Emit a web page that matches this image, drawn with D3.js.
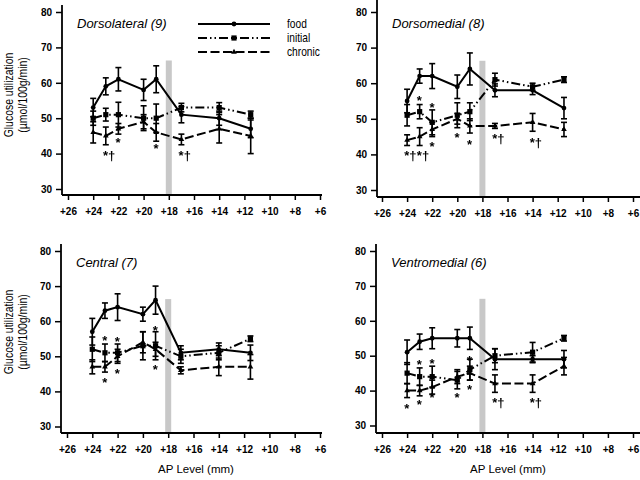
<!DOCTYPE html>
<html><head><meta charset="utf-8">
<script src="https://cdn.jsdelivr.net/npm/d3@7"></script>
<style>
body{margin:0;background:#fff;}
svg{display:block;font-family:"Liberation Sans",Arial,sans-serif;}
</style></head>
<body><svg id="c" width="640" height="480"><defs><filter id="gs" x="-50%" y="-50%" width="200%" height="200%"><feColorMatrix type="saturate" values="0"/></filter></defs></svg>
<script>
const apLevels = [24, 23, 22, 20, 19, 17, 14, 11.5];
const panelTitles = ["Dorsolateral (9)", "Dorsomedial (8)", "Central (7)", "Ventromedial (6)"];
const xTicks = [26, 24, 22, 20, 18, 16, 14, 12, 10, 8, 6];
const yTicks = [30, 40, 50, 60, 70, 80];
const seriesNames = ["food", "initial", "chronic"];

const foodMean = [
  [53, 59, 61, 58, 61, 51, 50, 47],
  [55, 62, 62, 59, 64, 58, 58, 53],
  [57, 63, 64, 62, 66, 51, 52, 51],
  [51, 54, 55, 55, 55, 49, 49, 49]];
const foodErr = [
  [2.6, 2.4, 3.3, 3, 3.8, 2.3, 2, 2.5],
  [3.3, 2, 3.5, 3.3, 4.5, 1.8, 1.2, 3],
  [3.8, 2.2, 3.8, 2, 4, 2, 1.8, 2.2],
  [3.5, 2.2, 3, 2.5, 3.2, 3, 1, 2.5]];
const initialMean = [
  [50, 51, 51, 50, 50, 53, 53, 51],
  [51, 52, 49, 51, 52, 61, 59, 61],
  [52, 51, 51, 53, 53, 50, 51, 55],
  [45, 44, 44, 43, 46, 50, 51, 55]];
const initialErr = [
  [2, 1.8, 3.5, 3.5, 4, 1.2, 1.4, 1],
  [3, 2, 3.5, 3.5, 2.5, 1.8, 1, 0.8],
  [3.5, 2.5, 2.5, 4, 4, 2, 2, 0.8],
  [3, 2.5, 3, 2.5, 3, 2, 2.8, 0.8]];
const chronicMean = [
  [46, 45, 47, 49, 46, 44, 47, 45],
  [44, 45, 47, 50, 48, 48, 49, 47],
  [47, 47, 50, 54, 52, 46, 47, 47],
  [40, 40, 41, 44, 45, 42, 42, 47]];
const chronicErr = [
  [3, 2.5, 1.5, 2, 2.5, 1.5, 4, 5],
  [1.5, 2.5, 2, 1.5, 2, 0.7, 2.5, 2],
  [2, 1.5, 2, 3, 2, 1, 2.5, 3.5],
  [2, 1.5, 2, 2, 2, 2.5, 2.5, 2.5]];

// significance marks: [AP level, glucose value at text baseline, label]
const marks = [
  [[23, 38.2, "*†"], [22, 41.8, "*"], [19, 40.1, "*"], [17, 38.2, "*†"]],
  [[23, 54.0, "*"], [22, 51.9, "*"], [22, 41.0, "*"], [20, 43.4, "*"], [19, 41.5, "*"],
   [24, 38.4, "*†"], [23, 38.4, "*†"], [17, 43.1, "*†"], [14, 42.2, "*†"]],
  [[23, 53.1, "*"], [23, 41.2, "*"], [22, 52.9, "*"], [22, 43.7, "*"], [19, 56.2, "*"], [19, 45.0, "*"]],
  [[24, 33.7, "*"], [23, 46.2, "*"], [23, 34.7, "*"], [22, 46.6, "*"], [22, 36.6, "*"],
   [20, 36.8, "*"], [19, 47.4, "*"], [19, 39.0, "*"], [17, 35.3, "*†"], [14, 35.3, "*†"]]];
const boundaryAP = 18, boundaryTop = 66.3;

// layout
const layout = [
  {ax: 62, x26: 68, x6: 320, xEnd: 322, y80: 12, y30: 189, base: 195, top: 5},
  {ax: 377, x26: 382, x6: 633, xEnd: 640, y80: 12, y30: 190, base: 197, top: 0},
  {ax: 61, x26: 67, x6: 320, xEnd: 322, y80: 251, y30: 426.5, base: 433, top: 244},
  {ax: 376, x26: 382, x6: 633, xEnd: 640, y80: 251, y30: 425.5, base: 433, top: 244}];

const svg = d3.select("#c");
const styles = {
  food: {dash: null, width: 2},
  initial: {dash: "9,3,1.5,3,1.5,3", width: 2},
  chronic: {dash: "9,3.5", width: 2}
};
const triangle = d3.symbol().type(d3.symbolTriangle).size(14);

function drawMarker(g, name, x, y) {
  if (name === "food") g.append("circle").attr("cx", x).attr("cy", y).attr("r", 2.4).attr("fill", "#000");
  else if (name === "initial") g.append("rect").attr("x", x - 2.6).attr("y", y - 2.6).attr("width", 5.2).attr("height", 5.2).attr("fill", "#000");
  else g.append("path").attr("d", triangle).attr("transform", `translate(${x},${y})`).attr("fill", "#000");
}

layout.forEach((L, p) => {
  const x = d3.scaleLinear().domain([26, 6]).range([L.x26, L.x6]);
  const y = d3.scaleLinear().domain([30, 80]).range([L.y30, L.y80]);
  const g = svg.append("g");

  // boundary bar
  g.append("rect").attr("x", x(boundaryAP) - 3).attr("width", 6)
    .attr("y", y(boundaryTop)).attr("height", L.base - y(boundaryTop)).attr("fill", "#c8c8c8");

  // axes
  const xa = g.append("g").attr("transform", `translate(0,${L.base})`)
    .call(d3.axisBottom(x).tickValues(xTicks).tickSize(5).tickPadding(8).tickFormat(d => "+" + d));
  xa.select(".domain").remove();
  g.append("line").attr("x1", L.ax).attr("x2", L.xEnd).attr("y1", L.base).attr("y2", L.base)
    .attr("stroke", "#000").attr("stroke-width", 1.8);
  const ya = g.append("g").attr("transform", `translate(${L.ax},0)`)
    .call(d3.axisLeft(y).tickValues(yTicks).tickSize(6).tickPadding(4));
  ya.select(".domain").remove();
  g.append("line").attr("x1", L.ax).attr("x2", L.ax).attr("y1", L.top).attr("y2", L.base)
    .attr("stroke", "#000").attr("stroke-width", 1.8);
  [xa, ya].forEach(a => {
    a.selectAll("text").attr("font-size", 10).attr("font-weight", "bold")
      .attr("font-family", "Liberation Sans, Arial, sans-serif").attr("fill", "#000");
    a.selectAll("line").attr("stroke", "#000").attr("stroke-width", 1.5);
  });

  // title
  g.append("text").attr("x", L.ax + 15).attr("y", L.y80 + 15.5).attr("font-size", 13)
    .attr("font-style", "italic").text(panelTitles[p]);

  const series = [
    ["food", foodMean[p], foodErr[p]],
    ["initial", initialMean[p], initialErr[p]],
    ["chronic", chronicMean[p], chronicErr[p]]];

  series.forEach(([name, mean, err]) => {
    const pts = apLevels.map((a, i) => ({a, m: mean[i], e: err[i]}));
    pts.forEach(d => {
      const xx = x(d.a), y1 = y(d.m + d.e), y2 = y(d.m - d.e);
      g.append("line").attr("x1", xx).attr("x2", xx).attr("y1", y1).attr("y2", y2).attr("stroke", "#000").attr("stroke-width", 1.6);
      [y1, y2].forEach(yy => g.append("line").attr("x1", xx - 3).attr("x2", xx + 3).attr("y1", yy).attr("y2", yy).attr("stroke", "#000").attr("stroke-width", 1.6));
    });
    const line = d3.line().x(d => x(d.a)).y(d => y(d.m));
    g.append("path").datum(pts).attr("d", line).attr("fill", "none").attr("stroke", "#000")
      .attr("stroke-width", styles[name].width).attr("stroke-dasharray", styles[name].dash);
    pts.forEach(d => drawMarker(g, name, x(d.a), y(d.m)));
  });

  // significance marks
  const mg = g.append("g").attr("filter", "url(#gs)");
  marks[p].forEach(([a, v, t]) => {
    mg.append("text").attr("x", x(a) - 2.8).attr("y", y(v)).attr("font-size", 13)
      .attr("font-weight", "bold").attr("fill", "#000").text(t);
  });

  // y axis title
  if (p === 0 || p === 2) {
    const cy = p === 0 ? 95 : 332;
    g.append("text").attr("transform", `translate(13,${cy}) rotate(-90) scale(0.87,1)`).attr("text-anchor", "middle")
      .attr("font-size", 12).text("Glucose utilization");
    g.append("text").attr("transform", `translate(27,${cy}) rotate(-90) scale(0.87,1)`).attr("text-anchor", "middle")
      .attr("font-size", 12).text("(µmol/100g/min)");
  }
  if (p >= 2) {
    g.append("text").attr("x", p === 2 ? 196 : 508).attr("y", 473).attr("text-anchor", "middle")
      .attr("font-size", 11.5).text("AP Level (mm)");
  }
});

// legend (in first panel)
const lg = svg.append("g");
seriesNames.forEach((name, i) => {
  const ly = 24 + i * 14;
  lg.append("line").attr("x1", 198).attr("x2", 270).attr("y1", ly).attr("y2", ly).attr("stroke", "#000")
    .attr("stroke-width", styles[name].width).attr("stroke-dasharray", styles[name].dash);
  drawMarker(lg, name, 234, ly);
  lg.append("text").attr("transform", `translate(287,${ly + 4}) scale(0.85,1)`).attr("font-size", 12).text(name);
});
</script></body></html>
